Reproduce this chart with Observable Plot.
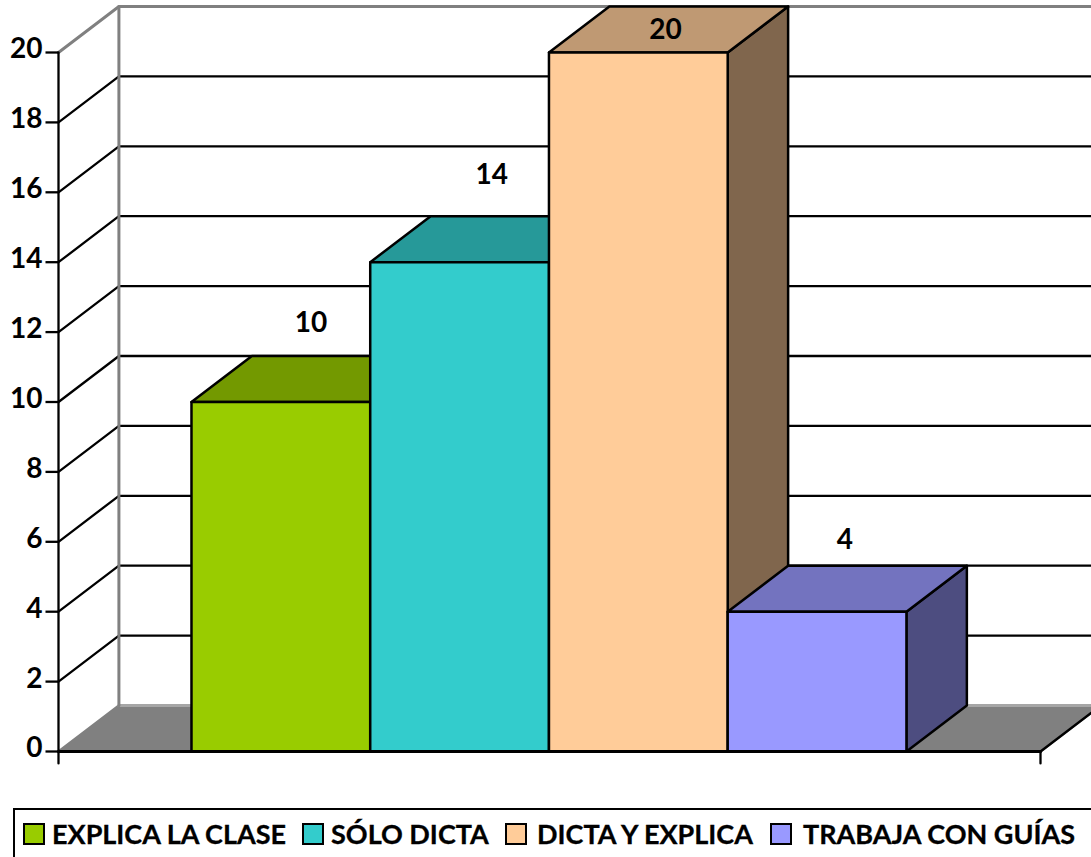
<!DOCTYPE html>
<html>
<head>
<meta charset="utf-8">
<script src="https://cdn.jsdelivr.net/npm/d3@7"></script>
<script src="https://cdn.jsdelivr.net/npm/@observablehq/plot@0.6"></script>
<style>
html,body{margin:0;padding:0;background:#fff;overflow:hidden;width:1091px;height:857px}
#chart{position:absolute;left:0;top:0}
#legend{position:absolute;left:13px;top:808px;width:1110px;height:70px;border:2px solid #000;box-sizing:border-box}
.sw{position:absolute;top:13px;width:22px;height:22px;border:2.5px solid #000;box-sizing:border-box}
.lb{position:absolute;top:8px;font:bold 27px Lato,sans-serif;line-height:32px;white-space:nowrap;color:#000;-webkit-text-stroke:0.3px #000}
svg text{-webkit-text-stroke:0.3px #000}
</style>
</head>
<body>
<div id="chart"></div>
<div id="legend"></div>
<script>
const categories = ["EXPLICA LA CLASE", "SÓLO DICTA", "DICTA Y EXPLICA", "TRABAJA CON GUÍAS"];
const values = [10, 14, 20, 4];
const frontColors = ["#99CC00", "#33CCCC", "#FFCC99", "#9999FF"];
const topColors = ["#739900", "#269999", "#BF9973", "#7373BF"];
const sideColors = ["#4D6600", "#1A6666", "#80664D", "#4D4D80"];
const yTicks = d3.range(0, 21, 2);

// Layout of the pseudo-3D box, in data units (one x unit = one bar width)
const xMax = 5.494, barStart = 0.744, depthX = 0.338, depthY = 1.316;
const labelLift = [2.25, 2.5, 0.63, 2.06];
const labelShift = [0.169, 0.18, 0.152, 0.155];
const legendSwatchX = [8, 287, 490, 755];
const legendTextX = [37, 316, 522, 788];

const grey = "#808080";
const P = (x, y) => ({x, y});
const poly = (pts, fill, stroke = "#000") => Plot.line(pts, {x: "x", y: "y", fill, stroke, strokeWidth: 2.5, curve: "linear-closed"});
const seg = (pts, stroke, strokeWidth = 2.3) => Plot.line(pts, {x: "x", y: "y", stroke, strokeWidth});

const marks = [];
// floor
marks.push(poly([P(0, 0), P(depthX, depthY), P(xMax + depthX, depthY), P(xMax, 0)], grey, grey));
marks.push(seg([P(depthX, depthY), P(xMax + depthX, depthY)], "#a6a6a6", 3));
// back wall gridlines and side wall lines
for (const v of yTicks.slice(1, -1)) {
  marks.push(seg([P(0, v), P(depthX, v + depthY), P(xMax + depthX, v + depthY)], "#000"));
}
// wall outline
marks.push(seg([P(0, 20), P(depthX, 20 + depthY), P(xMax + depthX, 20 + depthY)], grey, 3));
marks.push(seg([P(depthX, depthY), P(depthX, 20 + depthY)], grey, 3));
// bars
values.forEach((v, i) => {
  const a = barStart + i, b = a + 1;
  marks.push(poly([P(b, 0), P(b + depthX, depthY), P(b + depthX, v + depthY), P(b, v)], sideColors[i]));
  marks.push(poly([P(a, v), P(a + depthX, v + depthY), P(b + depthX, v + depthY), P(b, v)], topColors[i]));
  marks.push(poly([P(a, 0), P(a, v), P(b, v), P(b, 0)], frontColors[i]));
});
// front axes
marks.push(seg([P(0, 0), P(0, 20)], "#000"));
marks.push(seg([P(0, 0), P(xMax, 0)], "#000", 3));
marks.push(seg([P(xMax, 0), P(xMax + depthX, depthY)], "#000"));
marks.push(seg([P(0, 0), P(0, -0.34)], "#000"));
marks.push(seg([P(xMax, 0), P(xMax, -0.34)], "#000"));
marks.push(Plot.ruleY(yTicks, {x1: 0, x2: -0.07, stroke: "#000", strokeWidth: 2.3}));
marks.push(Plot.text(yTicks, {x: -0.09, y: d => d, text: d => String(d), dy: -3, textAnchor: "end", fontSize: 28, fontWeight: "bold", fill: "#000"}));
// value labels
marks.push(Plot.text(values, {
  x: (d, i) => barStart + i + 0.5 + labelShift[i],
  y: (d, i) => d + labelLift[i],
  text: d => String(d),
  fontSize: 28, fontWeight: "bold", fill: "#000"
}));

const plot = Plot.plot({
  width: 1091, height: 770,
  marginLeft: 58, marginRight: 51, marginTop: 52, marginBottom: 19,
  x: {domain: [0, xMax], axis: null},
  y: {domain: [0, 20], axis: null},
  style: {fontFamily: "Lato, sans-serif", background: "transparent", color: "#000"},
  marks
});
document.getElementById("chart").append(plot);

const legend = document.getElementById("legend");
categories.forEach((c, i) => {
  const s = document.createElement("div");
  s.className = "sw"; s.style.left = legendSwatchX[i] + "px"; s.style.background = frontColors[i];
  const t = document.createElement("div");
  t.className = "lb"; t.style.left = legendTextX[i] + "px"; t.textContent = c;
  legend.append(s, t);
});
</script>
</body>
</html>
